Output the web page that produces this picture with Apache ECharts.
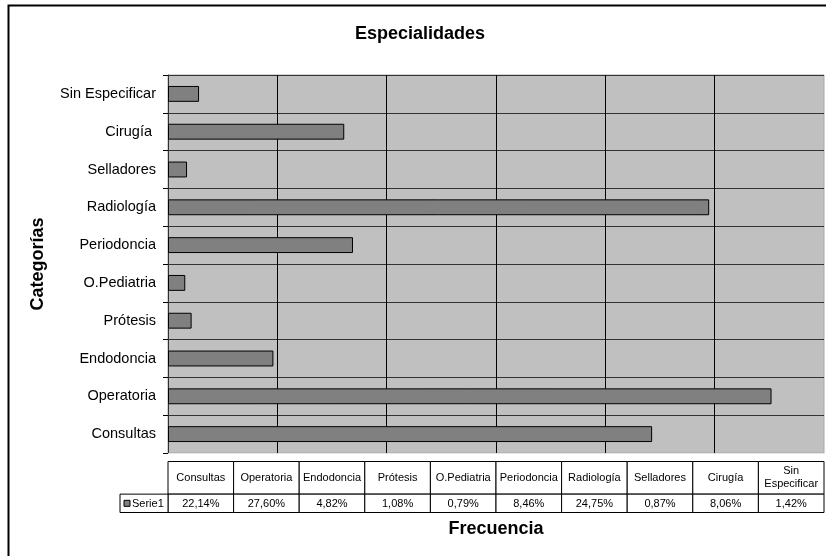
<!DOCTYPE html>
<html>
<head>
<meta charset="utf-8">
<script src="https://cdn.jsdelivr.net/npm/echarts@6/dist/echarts.min.js"></script>
<style>html,body{margin:0;padding:0;background:#fff}#c{width:826px;height:556px}</style>
</head>
<body>
<div id="c"></div>
<script>
const categories = ['Consultas','Operatoria','Endodoncia','Prótesis','O.Pediatria','Periodoncia','Radiología','Selladores','Cirugía ','Sin Especificar'];
const values = [22.14, 27.60, 4.82, 1.08, 0.79, 8.46, 24.75, 0.87, 8.06, 1.42];
const tableHeaders = ['Consultas','Operatoria','Endodoncia','Prótesis','O.Pediatria','Periodoncia','Radiología','Selladores','Cirugía','Sin\nEspecificar'];
const seriesName = 'Serie1';
const titleText = 'Especialidades';
const yName = 'Categorías';
const xName = 'Frecuencia';

const FONT = "'Liberation Sans', Arial, sans-serif";
const fmt = v => v.toFixed(2).replace('.', ',') + '%';

const chart = echarts.init(document.getElementById('c'), null, {renderer: 'canvas'});
chart.setOption({
  animation: false,
  backgroundColor: '#fff',
  textStyle: {fontFamily: FONT},
  title: {
    text: titleText, left: 355, top: 25, padding: 0,
    textStyle: {fontSize: 18, fontWeight: 'bold', color: '#000', fontFamily: FONT}
  },
  graphic: [{
    type: 'rect', left: 6, top: 3, z: -10,
    shape: {width: 900, height: 600},
    style: {fill: 'none', stroke: '#000', lineWidth: 2}
  }],
  grid: [
    {left: 168, right: 2, top: 75, height: 378, show: true, backgroundColor: '#c0c0c0', borderColor: '#a8a8a8', borderWidth: 1},
    {left: 168, right: 2, top: 461.5, height: 51}
  ],
  xAxis: [
    {
      type: 'value', gridIndex: 0, min: 0, max: 30, interval: 5,
      axisLabel: {show: false}, axisTick: {show: false},
      axisLine: {show: true, lineStyle: {color: '#e6e6e6', width: 1}},
      splitLine: {show: true, showMaxLine: false, lineStyle: {color: '#000', width: 1}},
      name: xName, nameLocation: 'middle', nameGap: 67,
      nameTextStyle: {fontSize: 18, fontWeight: 'bold', color: '#000', fontFamily: FONT}
    },
    {
      type: 'category', gridIndex: 1, data: tableHeaders, show: false
    }
  ],
  yAxis: [
    {
      type: 'category', gridIndex: 0, data: categories,
      axisLine: {show: true, lineStyle: {color: '#303030', width: 1}},
      axisTick: {show: true, length: 5, lineStyle: {color: '#000'}},
      splitLine: {show: true, interval: 0, lineStyle: {color: '#333333', width: 1}},
      axisLabel: {fontSize: 14.5, color: '#000', margin: 12, fontFamily: FONT},
      name: yName, nameLocation: 'middle', nameGap: 121, nameRotate: 90,
      nameTextStyle: {fontSize: 18, fontWeight: 'bold', color: '#000', fontFamily: FONT}
    },
    {type: 'value', gridIndex: 1, min: 0, max: 1, show: false}
  ],
  series: [
    {
      type: 'bar', name: seriesName, xAxisIndex: 0, yAxisIndex: 0,
      data: values, barWidth: '42%',
      itemStyle: {color: '#808080', borderColor: '#000', borderWidth: 1}
    },
    {
      type: 'custom', name: seriesName + ' tabla', xAxisIndex: 1, yAxisIndex: 1,
      data: values.map((v, i) => [i, v]),
      encode: {x: 0, y: 1},
      renderItem: function (params, api) {
        const cs = params.coordSys;
        const i = api.value(0);
        const v = api.value(1);
        const cx = api.coord([i, 0])[0];
        const w = api.size([1, 0])[0];
        const x0 = cx - w / 2;
        const hH = cs.height * 0.64;
        const vH = cs.height - hH;
        const y0 = cs.y;
        const ch = [
          {type: 'rect', shape: {x: x0, y: y0, width: w, height: hH}, style: {fill: '#fff', stroke: '#000', lineWidth: 1}},
          {type: 'rect', shape: {x: x0, y: y0 + hH, width: w, height: vH}, style: {fill: '#fff', stroke: '#000', lineWidth: 1}},
          {type: 'text', style: {x: cx, y: y0 + hH / 2, text: tableHeaders[i], align: 'center', verticalAlign: 'middle', fontSize: 11, fontFamily: FONT, fill: '#000', lineHeight: 13}},
          {type: 'text', style: {x: cx, y: y0 + hH + vH / 2 + 0.5, text: fmt(v), align: 'center', verticalAlign: 'middle', fontSize: 11, fontFamily: FONT, fill: '#000'}}
        ];
        if (i === 0) {
          const lw = 48;
          ch.push({type: 'rect', shape: {x: x0 - lw, y: y0 + hH, width: lw, height: vH}, style: {fill: '#fff', stroke: '#000', lineWidth: 1}});
          ch.push({type: 'rect', shape: {x: x0 - lw + 4, y: y0 + hH + vH / 2 - 3, width: 6, height: 6}, style: {fill: '#808080', stroke: '#000', lineWidth: 1}});
          ch.push({type: 'text', style: {x: x0 - lw + 12, y: y0 + hH + vH / 2 + 0.5, text: seriesName, align: 'left', verticalAlign: 'middle', fontSize: 11, fontFamily: FONT, fill: '#000'}});
        }
        return {type: 'group', children: ch};
      }
    }
  ]
});
</script>
</body>
</html>
